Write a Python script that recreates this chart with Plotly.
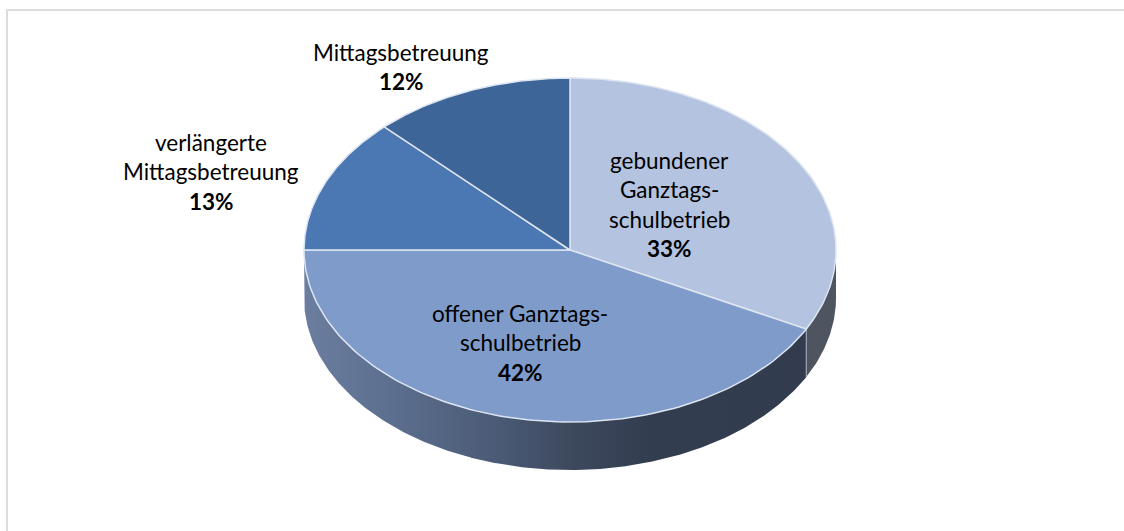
import numpy as np
import plotly.graph_objects as go

# --- data -----------------------------------------------------------------
categories = ["gebundener Ganztags-schulbetrieb", "offener Ganztags-schulbetrieb",
              "verlängerte Mittagsbetreuung", "Mittagsbetreuung"]
shares = [32.6, 42.4, 12.7, 12.3]
top_colors = ["#b4c3df", "#7f9bca", "#4b78b2", "#3e6597"]
label_lines = [["gebundener", "Ganztags-", "schulbetrieb"],
               ["offener Ganztags-", "schulbetrieb"],
               ["verlängerte", "Mittagsbetreuung"],
               ["Mittagsbetreuung"]]
label_anchor = [(669, 160), (520, 313), (211, 142), (401, 52)]

# --- geometry of the tilted pie ------------------------------------------
CX, CY, RX, RY, DEPTH = 570, 250, 266, 172, 48
LINE_H = 29.5
FONT = "Lato, 'Open Sans', sans-serif"
FS = 22.5


def px_at(t):
    return CX + RX * np.sin(t), CY - RY * np.cos(t)


fig = go.Figure()
edges = np.cumsum([0] + shares) / sum(shares) * 2 * np.pi
t1 = edges[1]

# front wall: the part of the rim between 3 and 9 o'clock
right = np.linspace(np.pi / 2, t1, 40)
xr, yr = px_at(right)
fig.add_trace(go.Scatter(
    x=np.r_[xr, xr[::-1]], y=np.r_[yr, yr[::-1] + DEPTH],
    mode="lines", fill="toself", fillcolor="#4e5460",
    line=dict(color="#4e5460", width=0), hoverinfo="skip", showlegend=False))

wall_stops_x = [304, 400, 500, 570, 650, 806]
wall_stops_c = ["#6b7e9f", "#5b6d8d", "#4a5a75", "#3d495e", "#333d50", "#323c4e"]
arc = np.linspace(t1, 1.5 * np.pi, 300)
xw, yw = px_at(arc)
x_lo, x_hi = float(xw.min()), float(xw.max())
scale = [[(x - x_lo) / (x_hi - x_lo), c] for x, c in zip(wall_stops_x, wall_stops_c)]
scale[0][0] = 0.0
scale[-1][0] = 1.0
fig.add_trace(go.Scatter(
    x=np.r_[xw, xw[::-1]], y=np.r_[yw, yw[::-1] + DEPTH],
    mode="lines", fill="toself",
    fillgradient=dict(type="horizontal", colorscale=scale),
    line=dict(width=0), hoverinfo="skip", showlegend=False))

# light seam on the wall at the slice boundary
xb, yb = px_at(t1)
fig.add_trace(go.Scatter(x=[xb, xb], y=[yb, yb + DEPTH], mode="lines",
                         line=dict(color="#aab2c0", width=1),
                         hoverinfo="skip", showlegend=False))

# top face
for name, a, b, col in zip(categories, edges[:-1], edges[1:], top_colors):
    arc = np.linspace(a, b, 120)
    xa, ya = px_at(arc)
    fig.add_trace(go.Scatter(
        x=np.r_[CX, xa, CX], y=np.r_[CY, ya, CY], name=name,
        mode="lines", fill="toself", fillcolor=col,
        line=dict(color="#dde5f2", width=1.5), hoverinfo="name", showlegend=False))

# labels
ann = []
for lines, share, (ax, ay) in zip(label_lines, shares, label_anchor):
    rows = lines + [f"<b>{round(share)}%</b>"]
    for i, row in enumerate(rows):
        ann.append(dict(x=ax, y=ay + i * LINE_H, text=row, showarrow=False,
                        xref="x", yref="y", xanchor="center", yanchor="middle",
                        font=dict(family=FONT, size=FS, color="#000000")))

frame = [dict(type="line", xref="x", yref="y", x0=7, x1=7, y0=10, y1=531,
              line=dict(color="#dcdcdc", width=2)),
         dict(type="line", xref="x", yref="y", x0=6, x1=1124, y0=10, y1=10,
              line=dict(color="#dcdcdc", width=2))]

fig.update_layout(
    width=1124, height=531, autosize=False,
    margin=dict(l=0, r=0, t=0, b=0),
    paper_bgcolor="white", plot_bgcolor="white",
    xaxis=dict(range=[0, 1124], visible=False, fixedrange=True),
    yaxis=dict(range=[531, 0], visible=False, fixedrange=True),
    annotations=ann, shapes=frame,
)
fig.write_html("out.html", config=dict(displayModeBar=False),
               post_script="document.body.style.margin='0';document.body.style.overflow='hidden';")
